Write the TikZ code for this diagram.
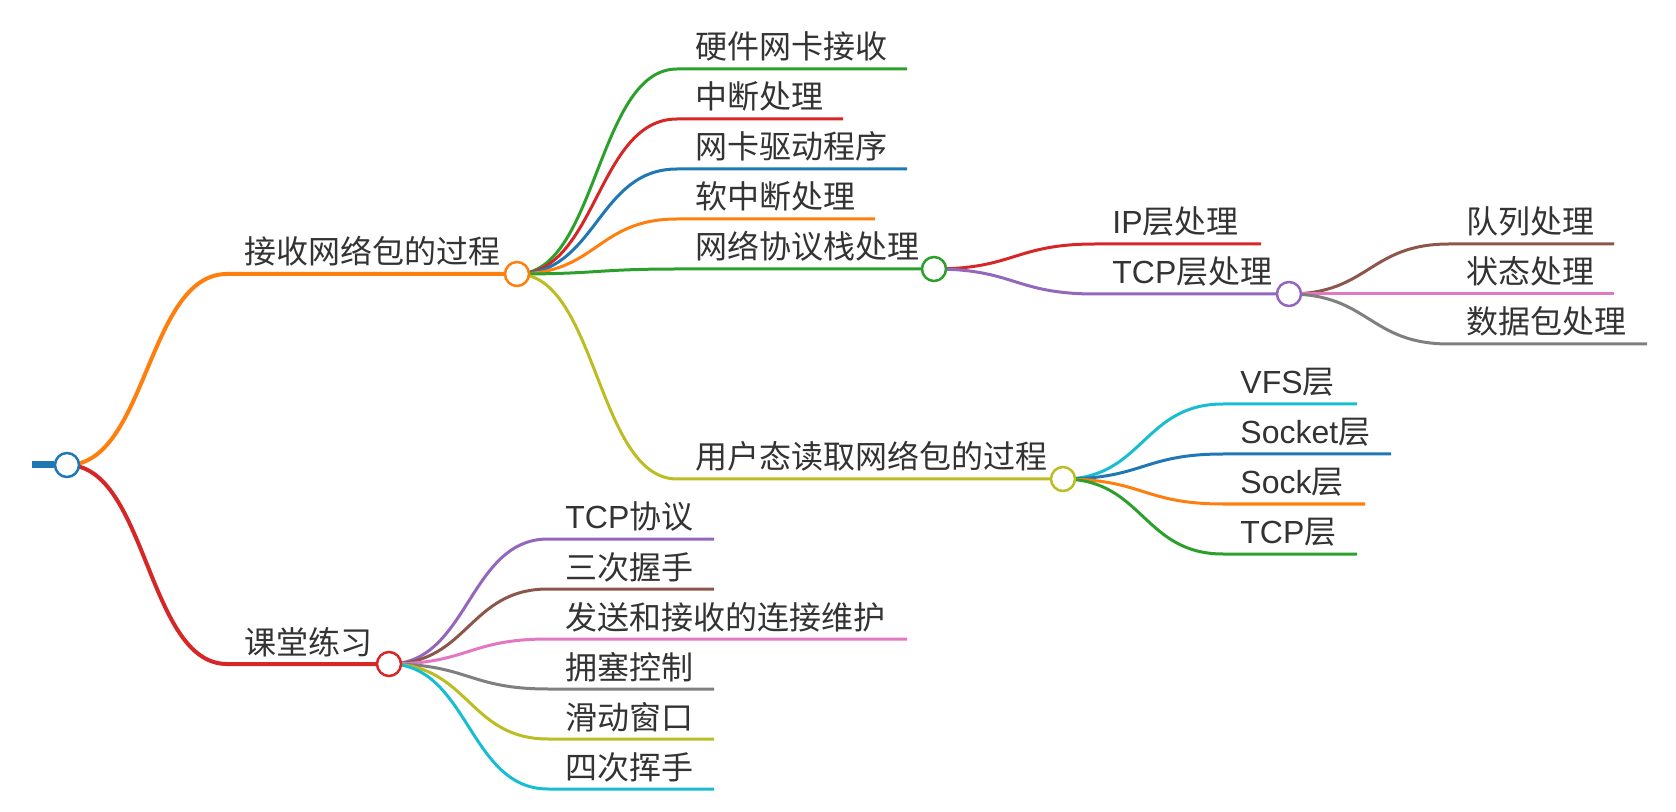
\documentclass[tikz,border=0pt]{standalone}
\usepackage{fontspec}
\setmainfont{Noto Sans CJK SC}
\newfontfamily\lat{Liberation Sans}
\usetikzlibrary{calc}
\pgfdeclarelayer{bg}
\pgfsetlayers{bg,main}
\definecolor{cBlue}{HTML}{1F77B4}
\definecolor{cOrange}{HTML}{FF7F0E}
\definecolor{cGreen}{HTML}{2CA02C}
\definecolor{cRed}{HTML}{D62728}
\definecolor{cPurple}{HTML}{9467BD}
\definecolor{cBrown}{HTML}{8C564B}
\definecolor{cPink}{HTML}{E377C2}
\definecolor{cGray}{HTML}{7F7F7F}
\definecolor{cOlive}{HTML}{BCBD22}
\definecolor{cCyan}{HTML}{17BECF}
\definecolor{txtc}{HTML}{333333}
\newcommand\mmlink[5][1.5pt]{%
  \draw[line width=#1, draw=#2] let \p1=(#3.center), \p2=(#4) in
    (\p1) .. controls ({0.5*\x1+0.5*\x2},\y1) and ({0.5*\x1+0.5*\x2},\y2) .. (\p2) -- (#5);}
\begin{document}
\begin{tikzpicture}[x=0.5pt,y=-0.5pt,
  txt/.style={anchor=base west, inner sep=0pt, text=txtc, font=\fontsize{16pt}{19pt}\selectfont},
  dot/.style={circle, draw=#1, fill=white, line width=1.25pt, minimum size=12pt, inner sep=0pt}]
\useasboundingbox (0,0) rectangle (1676,812);

% root
\coordinate (s0) at (32,465);
\node[dot=cBlue] (R) at (67,465) {};

% level 1
\coordinate (As) at (227,274);
\node[dot=cOrange] (A) at (517,274) {};
\node[txt] (At) at (244,264) {接收网络包的过程};
\coordinate (Bs) at (227,664);
\node[dot=cRed] (B) at (389,664) {};
\node[txt] (Bt) at (244,654) {课堂练习};

% children of A
\coordinate (a1s) at (677,69);  \coordinate (a1e) at (907,69);
\node[txt] (a1) at (695,59) {硬件网卡接收};
\coordinate (a2s) at (677,119); \coordinate (a2e) at (843,119);
\node[txt] (a2) at (695,109) {中断处理};
\coordinate (a3s) at (677,169); \coordinate (a3e) at (907,169);
\node[txt] (a3) at (695,159) {网卡驱动程序};
\coordinate (a4s) at (677,219); \coordinate (a4e) at (875,219);
\node[txt] (a4) at (695,209) {软中断处理};
\coordinate (Cs) at (677,269);
\node[dot=cGreen] (C) at (934,269) {};
\node[txt] (Ct) at (695,259) {网络协议栈处理};
\coordinate (Es) at (677,479);
\node[dot=cOlive] (E) at (1063,479) {};
\node[txt] (Et) at (695,469) {用户态读取网络包的过程};

% children of C
\coordinate (c1s) at (1095,244); \coordinate (c1e) at (1261,244);
\node[txt] (c1) at (1112,234) {{\lat IP}层处理};
\coordinate (Ds) at (1095,294);
\node[dot=cPurple] (D) at (1289,294) {};
\node[txt] (Dt) at (1112,284) {{\lat TCP}层处理};

% children of D
\coordinate (d1s) at (1449,244); \coordinate (d1e) at (1614,244);
\node[txt] (d1) at (1466,234) {队列处理};
\coordinate (d2s) at (1449,294); \coordinate (d2e) at (1614,294);
\node[txt] (d2) at (1466,284) {状态处理};
\coordinate (d3s) at (1449,344); \coordinate (d3e) at (1647,344);
\node[txt] (d3) at (1466,334) {数据包处理};

% children of E
\coordinate (e1s) at (1223,404); \coordinate (e1e) at (1357,404);
\node[txt] (e1) at (1240,394) {{\lat VFS}层};
\coordinate (e2s) at (1223,454); \coordinate (e2e) at (1391,454);
\node[txt] (e2) at (1240,444) {{\lat Socket}层};
\coordinate (e3s) at (1223,504); \coordinate (e3e) at (1365,504);
\node[txt] (e3) at (1240,494) {{\lat Sock}层};
\coordinate (e4s) at (1223,554); \coordinate (e4e) at (1357,554);
\node[txt] (e4) at (1240,544) {{\lat TCP}层};

% children of B
\coordinate (b1s) at (548,539); \coordinate (b1e) at (714,539);
\node[txt] (b1) at (565,529) {{\lat TCP}协议};
\coordinate (b2s) at (548,589); \coordinate (b2e) at (714,589);
\node[txt] (b2) at (565,579) {三次握手};
\coordinate (b3s) at (548,639); \coordinate (b3e) at (907,639);
\node[txt] (b3) at (565,629) {发送和接收的连接维护};
\coordinate (b4s) at (548,689); \coordinate (b4e) at (714,689);
\node[txt] (b4) at (565,679) {拥塞控制};
\coordinate (b5s) at (548,739); \coordinate (b5e) at (714,739);
\node[txt] (b5) at (565,729) {滑动窗口};
\coordinate (b6s) at (548,789); \coordinate (b6e) at (714,789);
\node[txt] (b6) at (565,779) {四次挥手};

\begin{pgfonlayer}{bg}
\draw[cBlue, line width=3.5pt] (s0) -- (R);
\mmlink[2pt]{cOrange}{R}{As}{A}
\mmlink[2pt]{cRed}{R}{Bs}{B}
\mmlink{cGreen}{A}{a1s}{a1e}
\mmlink{cRed}{A}{a2s}{a2e}
\mmlink{cBlue}{A}{a3s}{a3e}
\mmlink{cOrange}{A}{a4s}{a4e}
\mmlink{cGreen}{A}{Cs}{C}
\mmlink{cOlive}{A}{Es}{E}
\mmlink{cRed}{C}{c1s}{c1e}
\mmlink{cPurple}{C}{Ds}{D}
\mmlink{cBrown}{D}{d1s}{d1e}
\mmlink{cPink}{D}{d2s}{d2e}
\mmlink{cGray}{D}{d3s}{d3e}
\mmlink{cCyan}{E}{e1s}{e1e}
\mmlink{cBlue}{E}{e2s}{e2e}
\mmlink{cOrange}{E}{e3s}{e3e}
\mmlink{cGreen}{E}{e4s}{e4e}
\mmlink{cPurple}{B}{b1s}{b1e}
\mmlink{cBrown}{B}{b2s}{b2e}
\mmlink{cPink}{B}{b3s}{b3e}
\mmlink{cGray}{B}{b4s}{b4e}
\mmlink{cOlive}{B}{b5s}{b5e}
\mmlink{cCyan}{B}{b6s}{b6e}
\end{pgfonlayer}
\end{tikzpicture}
\end{document}
